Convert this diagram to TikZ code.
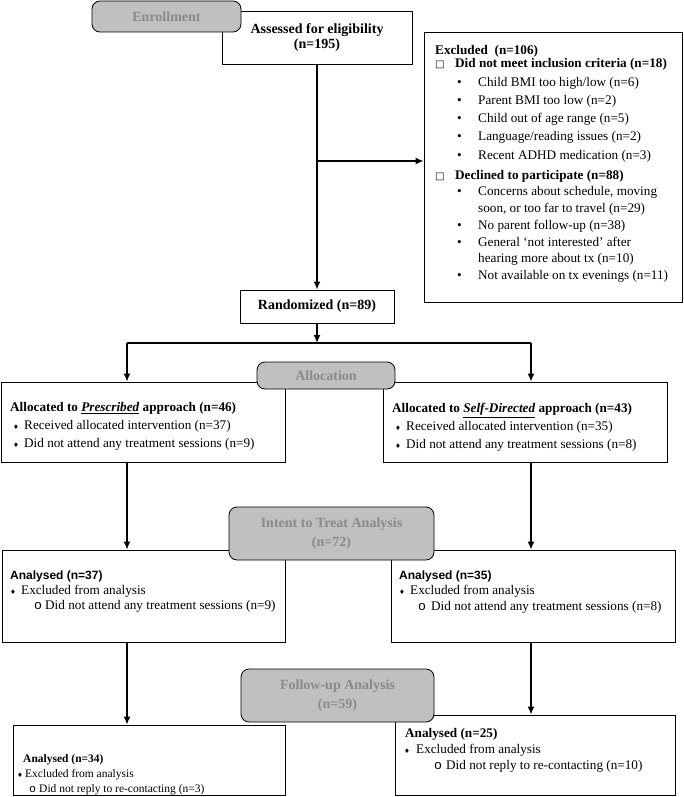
\documentclass[tikz,border=0pt]{standalone}
\usepackage{fontspec}
\setmainfont{Liberation Serif}
\newfontfamily\arialfont{Liberation Sans}
\newfontfamily\symfont{DejaVu Sans}
\newfontfamily\courfont{Liberation Mono}
\usepackage{xcolor}
\definecolor{stagefill}{HTML}{C0C0C0}
\definecolor{stagetext}{HTML}{8A8A8A}
\usepackage{tikz}
\usetikzlibrary{arrows.meta}

\newcommand{\dmd}{{\symfont\fontsize{6.5}{6.5}\selectfont ♦}}
\newcommand{\sqb}{{\symfont\fontsize{10}{10}\selectfont □}}
\newcommand{\subo}{{\courfont o}}

\tikzset{
  box/.style={draw, line width=0.8pt, fill=white, inner sep=0pt},
  stage/.style={draw, line width=0.8pt, rounded corners=8pt, fill=stagefill, text=stagetext,
    font=\bfseries\fontsize{14}{19.5}\selectfont, align=center, inner sep=0pt},
  txt/.style={inner sep=0pt, align=left, anchor=north west, font=\fontsize{13.2}{17.5}\selectfont},
  arr/.style={->, >={Latex[length=8pt, width=7pt]}, line width=1.6pt}
}

\begin{document}
\begin{tikzpicture}[x=1pt, y=-1pt]
\useasboundingbox (0, 0) rectangle (684, 797);

\node (assess) at (317, 37.5) [box, minimum width=190pt, minimum height=53pt, align=center,
  font=\bfseries\fontsize{14}{15}\selectfont] {Assessed for eligibility\\(n=195)};
\node (enrol) at (166.5, 16.5) [stage, minimum width=149pt, minimum height=31pt] {Enrollment};

\node (excl) at (553, 167) [box, minimum width=258pt, minimum height=270pt] {};
\node (excltxt) at (435, 45.4) [txt] {%
  {\bfseries Excluded\ \ (n=106)}\\[-4.5pt]
  \makebox[20pt][l]{\sqb}{\bfseries Did not meet inclusion criteria (n=18)}\\[0.8pt]
  \hspace*{22pt}\makebox[21pt][l]{•}Child BMI too high/low (n=6)\\[0.8pt]
  \hspace*{22pt}\makebox[21pt][l]{•}Parent BMI too low (n=2)\\[0.8pt]
  \hspace*{22pt}\makebox[21pt][l]{•}Child out of age range (n=5)\\[0.8pt]
  \hspace*{22pt}\makebox[21pt][l]{•}Language/reading issues (n=2)\\[0.8pt]
  \hspace*{22pt}\makebox[21pt][l]{•}Recent ADHD medication (n=3)\\[2.5pt]
  \makebox[20pt][l]{\sqb}{\bfseries Declined to participate (n=88)}\\[-0.8pt]
  \hspace*{22pt}\makebox[21pt][l]{•}Concerns about schedule, moving\\[-0.8pt]
  \hspace*{43pt}soon, or too far to travel (n=29)\\[-0.8pt]
  \hspace*{22pt}\makebox[21pt][l]{•}No parent follow-up (n=38)\\[-0.8pt]
  \hspace*{22pt}\makebox[21pt][l]{•}General `not interested' after\\[-0.8pt]
  \hspace*{43pt}hearing more about tx (n=10)\\[-0.8pt]
  \hspace*{22pt}\makebox[21pt][l]{•}Not available on tx evenings (n=11)};

\node (rand) at (317, 306.5) [box, minimum width=154pt, minimum height=33pt,
  font=\bfseries\fontsize{14}{15}\selectfont] {Randomized (n=89)};

\coordinate (branch) at (317, 161);
\coordinate (splitL) at (127, 343);
\coordinate (splitR) at (531, 343);

\node (allocL) at (143, 422) [box, minimum width=284pt, minimum height=80pt] {};
\node (allocLtxt) at (10, 402.4) [txt, font=\fontsize{13.2}{18}\selectfont] {%
  {\bfseries Allocated to \underline{\textit{Prescribed}} approach (n=46)}\\
  \hspace*{3pt}\makebox[11pt][l]{\dmd}Received allocated intervention (n=37)\\
  \hspace*{3pt}\makebox[11pt][l]{\dmd}Did not attend any treatment sessions (n=9)};
\node (allocR) at (525, 422) [box, minimum width=284pt, minimum height=80pt] {};
\node (allocRtxt) at (392, 403.4) [txt, font=\fontsize{13.2}{18}\selectfont] {%
  {\bfseries Allocated to \underline{\textit{Self-Directed}} approach (n=43)}\\
  \hspace*{3pt}\makebox[11pt][l]{\dmd}Received allocated intervention (n=35)\\
  \hspace*{3pt}\makebox[11pt][l]{\dmd}Did not attend any treatment sessions (n=8)};
\node (alloc) at (326, 375.5) [stage, minimum width=138pt, minimum height=27pt] {Allocation};

\node (ittL) at (143.5, 596) [box, minimum width=283pt, minimum height=92pt] {};
\node (ittLtxt) at (10, 570.4) [txt, font=\fontsize{13.2}{15}\selectfont] {%
  {\arialfont\bfseries\fontsize{12}{15}\selectfont Analysed (n=37)}\\
  \makebox[11pt][l]{\dmd}Excluded from analysis\\
  \hspace*{24pt}\makebox[11pt][l]{\subo}Did not attend any treatment sessions (n=9)};
\node (ittR) at (533, 596) [box, minimum width=284pt, minimum height=92pt] {};
\node (ittRtxt) at (399, 570.4) [txt, font=\fontsize{13.2}{15.5}\selectfont] {%
  {\arialfont\bfseries\fontsize{12}{15}\selectfont Analysed (n=35)}\\
  \makebox[11pt][l]{\dmd}Excluded from analysis\\
  \hspace*{19pt}\makebox[13pt][l]{\subo}Did not attend any treatment sessions (n=8)};
\node (itt) at (331.5, 533.5) [stage, minimum width=205pt, minimum height=53pt] {Intent to Treat Analysis\\(n=72)};

\node (fuL) at (149, 760) [box, minimum width=272pt, minimum height=70pt] {};
\node (fuLtxt) at (16, 754) [txt, font=\fontsize{11.5}{15}\selectfont] {%
  \hspace*{7pt}{\bfseries Analysed (n=34)}\\
  \hspace*{1pt}\makebox[8pt][l]{\dmd}Excluded from analysis\\
  \hspace*{13pt}\makebox[10pt][l]{\subo}Did not reply to re-contacting (n=3)};
\node (fuR) at (535, 755) [box, minimum width=280pt, minimum height=80pt] {};
\node (fuRtxt) at (404, 728.4) [txt, font=\fontsize{13.2}{16}\selectfont] {%
  \hspace*{1pt}{\bfseries Analysed (n=25)}\\
  \makebox[12pt][l]{\dmd}Excluded from analysis\\
  \hspace*{30pt}\makebox[12pt][l]{\subo}Did not reply to re-contacting (n=10)};
\node (fu) at (337.5, 695.5) [stage, minimum width=193pt, minimum height=53pt] {Follow-up Analysis\\(n=59)};

\draw[arr] (assess.south) -- (rand.north);
\draw[arr] (branch) -- (branch -| excl.west);
\draw[arr] (rand.south) -- (rand.south |- splitL);
\draw[line width=1.6pt] (splitL) -- (splitR);
\draw[arr] (splitL) -- (splitL |- allocL.north);
\draw[arr] (splitR) -- (splitR |- allocR.north);
\draw[arr] (allocL.south -| splitL) -- (ittL.north -| splitL);
\draw[arr] (allocR.south -| splitR) -- (ittR.north -| splitR);
\draw[arr] (ittL.south -| splitL) -- (fuL.north -| splitL);
\draw[arr] (ittR.south -| splitR) -- (fuR.north -| splitR);
\end{tikzpicture}
\end{document}
